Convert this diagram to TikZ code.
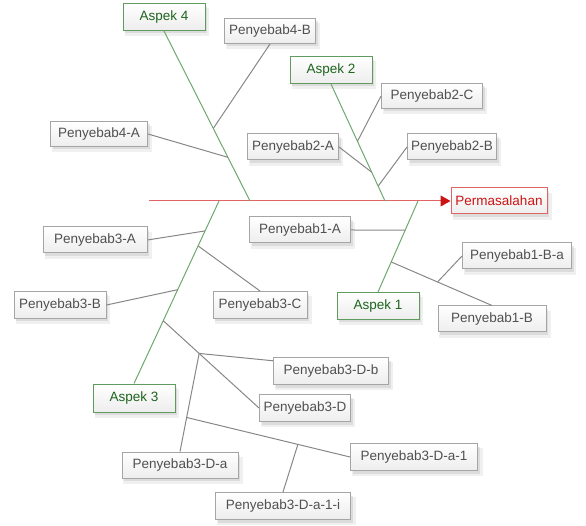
\documentclass[tikz,border=0pt]{standalone}
\usepackage{fontspec}
\setmainfont{Liberation Sans}
\usepackage{xcolor}
\usetikzlibrary{positioning}
\usetikzlibrary{arrows.meta}
\usetikzlibrary{calc}
\usetikzlibrary{shadows}
\definecolor{bonegreen}{RGB}{110,168,110}
\definecolor{aspekgreen}{RGB}{95,155,95}
\definecolor{aspektext}{RGB}{30,100,30}
\definecolor{twiggray}{RGB}{135,135,135}
\definecolor{boxgray}{RGB}{165,165,165}
\definecolor{textgray}{RGB}{80,80,80}
\definecolor{spinered}{RGB}{225,100,100}
\definecolor{probred}{RGB}{205,20,20}

\begin{document}
\begin{tikzpicture}[x=1pt,y=-1pt,line width=1pt,
    cause node/.style={rectangle,draw=boxgray,top color=white,bottom color=black!7,
      drop shadow={opacity=0.12,shadow xshift=3pt,shadow yshift=-5pt,shadow scale=1.03},
      drop shadow={opacity=0.18,shadow xshift=2pt,shadow yshift=-3pt},
      font=\fontsize{13.5}{16}\selectfont,text=textgray,minimum height=26pt,inner sep=2pt},
    aspect node/.style={cause node,draw=aspekgreen,text=aspektext,minimum width=82pt,minimum height=27pt},
    problem node/.style={cause node,draw=spinered,text=probred,minimum width=96pt},
    bone/.style={draw=bonegreen},
    twig/.style={draw=twiggray}]
\useasboundingbox (0,0) rectangle (586,526);

\node[aspect node] (a4) at (164,17) {Aspek 4};
\node[aspect node] (a2) at (331,70) {Aspek 2};
\node[aspect node] (a1) at (378,306) {Aspek 1};
\node[aspect node, minimum height=28pt] (a3) at (134,398) {Aspek 3};
\node[problem node] (prob) at (499,201) {Permasalahan};

\node[cause node, minimum width=91pt, minimum height=25pt] (p4b) at (270,31) {Penyebab4-B};
\node[cause node, minimum width=97pt, minimum height=25pt] (p4a) at (99,134) {Penyebab4-A};
\node[cause node, minimum width=101pt, minimum height=25pt] (p2c) at (432,96) {Penyebab2-C};
\node[cause node, minimum width=91pt] (p2a) at (293,147) {Penyebab2-A};
\node[cause node, minimum width=89pt] (p2b) at (452,147) {Penyebab2-B};
\node[cause node, minimum width=101pt] (p1a) at (300,230) {Penyebab1-A};
\node[cause node, minimum width=109pt] (p1ba) at (517,256) {Penyebab1-B-a};
\node[cause node, minimum width=108pt] (p1b) at (492,319) {Penyebab1-B};
\node[cause node, minimum width=104pt] (p3a) at (95,240) {Penyebab3-A};
\node[cause node, minimum width=92pt, minimum height=27pt] (p3b) at (60,305) {Penyebab3-B};
\node[cause node, minimum width=94pt, minimum height=27pt] (p3c) at (260,305) {Penyebab3-C};
\node[cause node, minimum width=115pt, minimum height=27pt] (p3db) at (331,371) {Penyebab3-D-b};
\node[cause node, minimum width=91pt, minimum height=27pt] (p3d) at (305,408) {Penyebab3-D};
\node[cause node, minimum width=116pt] (p3da) at (180,465) {Penyebab3-D-a};
\node[cause node, minimum width=127pt, minimum height=27pt] (p3da1) at (414,457) {Penyebab3-D-a-1};
\node[cause node, minimum width=135pt, minimum height=27pt] (p3da1i) at (283,506) {Penyebab3-D-a-1-i};

\coordinate (s0) at (149,201);
\coordinate (j4) at (250,201);
\coordinate (j2) at (385,201);
\coordinate (j1) at (418,201);
\coordinate (j3) at (219,201);

\coordinate (b4b) at ($(a4.south)!0.573!(j4)$);
\coordinate (b4a) at ($(a4.south)!0.743!(j4)$);
\coordinate (b2c) at ($(a2.south)!0.49!(j2)$);
\coordinate (b2a) at ($(a2.south)!0.754!(j2)$);
\coordinate (b2b) at ($(a2.south)!0.873!(j2)$);
\coordinate (b1a) at ($(j1)!0.319!(a1.north)$);
\coordinate (b1b) at ($(j1)!0.67!(a1.north)$);
\coordinate (b1ba) at ($(b1b)!0.46!(p1b.north)$);
\coordinate (b3a) at ($(j3)!0.164!(a3.north)$);
\coordinate (b3c) at ($(j3)!0.246!(a3.north)$);
\coordinate (b3b) at ($(j3)!0.486!(a3.north)$);
\coordinate (b3d) at ($(j3)!0.656!(a3.north)$);
\coordinate (b3dx) at ($(b3d)!0.375!(p3d.west)$);
\coordinate (b3da1) at ($(b3dx)!0.653!(p3da.north)$);
\coordinate (b3da1i) at ($(b3da1)!0.681!(p3da1.west)$);

\draw[spinered, -{Triangle[length=10pt,width=11pt,color=probred,fill=probred]}] (s0) -- (prob.west);

\path[bone]
  (a4.south) edge (j4)
  (a2.south) edge (j2)
  (j1) edge (a1.north)
  (j3) edge (a3.north);

\path[twig]
  (b4b) edge (p4b.south)
  (p4a.east) edge (b4a)
  (b2c) edge (p2c.west)
  (p2a.east) edge (b2a)
  (b2b) edge (p2b.west)
  (p1a.east) edge (b1a)
  (b1b) edge (p1b.north)
  (b1ba) edge (p1ba.west)
  (p3a.east) edge (b3a)
  (b3c) edge (p3c.north)
  (p3b.east) edge (b3b)
  (b3d) edge (p3d.west)
  (b3dx) edge (p3db.170)
  (b3dx) edge (p3da.north)
  (b3da1) edge (p3da1.west)
  (b3da1i) edge (p3da1i.north);

\end{tikzpicture}
\end{document}
